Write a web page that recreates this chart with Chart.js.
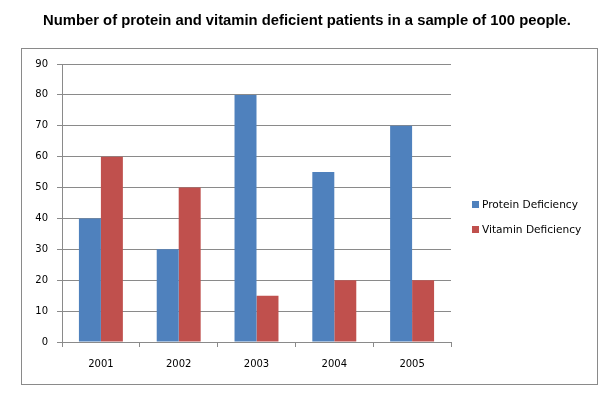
<!DOCTYPE html>
<html>
<head>
<meta charset="utf-8">
<script src="https://cdn.jsdelivr.net/npm/chart.js@4"></script>
<style>
  html, body { margin: 0; padding: 0; background: #fff; }
  #wrap { width: 612px; height: 396px; }
</style>
</head>
<body>
<div id="wrap"><canvas id="chartCanvas" width="612" height="396"></canvas></div>
<script>
const years = ['2001', '2002', '2003', '2004', '2005'];
const proteinValues = [40, 30, 80, 55, 70];
const vitaminValues = [60, 50, 15, 20, 20];
const seriesNames = ['Protein Deficiency', 'Vitamin Deficiency'];
const titleText = 'Number of protein and vitamin deficient patients in a sample of 100 people.';

const gridGrey = '#8a8a8a';
const labelFont = { family: 'DejaVu Sans, Verdana, sans-serif', size: 10 };

// title, outer frame and legend drawn around the plot
const framePlugin = {
  id: 'frame',
  afterDraw(chart) {
    const ctx = chart.ctx;
    ctx.save();
    ctx.fillStyle = '#000';
    ctx.font = 'bold 14.8px Liberation Sans, Arial, sans-serif';
    ctx.textAlign = 'center';
    ctx.textBaseline = 'middle';
    ctx.fillText(titleText, 307, 21);

    ctx.strokeStyle = gridGrey;
    ctx.lineWidth = 1;
    ctx.strokeRect(21.5, 48.5, 576, 336);

    ctx.font = '10.6px DejaVu Sans, Verdana, sans-serif';
    ctx.textAlign = 'left';
    chart.data.datasets.forEach((ds, i) => {
      const y = 205 + i * 25;
      ctx.fillStyle = ds.backgroundColor;
      ctx.fillRect(472, y - 4, 7, 7);
      ctx.fillStyle = '#000';
      ctx.fillText(ds.label, 482, y);
    });
    ctx.restore();
  }
};

const ctx = document.getElementById('chartCanvas').getContext('2d');
const chart = new Chart(ctx, {
  type: 'bar',
  data: {
    labels: years,
    datasets: [
      { label: seriesNames[0], data: proteinValues, backgroundColor: '#4F81BD' },
      { label: seriesNames[1], data: vitaminValues, backgroundColor: '#C0504D' }
    ]
  },
  options: {
    responsive: false,
    animation: false,
    layout: { padding: { left: 0, right: 161, top: 64, bottom: 24 } },
    datasets: { bar: { categoryPercentage: 0.565, barPercentage: 1 } },
    plugins: {
      legend: { display: false },
      tooltip: { enabled: false },
      title: { display: false }
    },
    scales: {
      x: {
        afterFit: s => { s.height = 30; },
        grid: { drawOnChartArea: false, color: gridGrey, tickLength: 5, offset: true },
        border: { color: gridGrey },
        ticks: { color: '#000', font: labelFont, padding: 11 }
      },
      y: {
        min: 0,
        max: 90,
        afterFit: s => { s.width = 62; },
        grid: { color: gridGrey, tickLength: 5 },
        border: { color: gridGrey },
        ticks: { stepSize: 10, color: '#000', font: labelFont, padding: 9 }
      }
    }
  },
  plugins: [framePlugin]
});
</script>
</body>
</html>
